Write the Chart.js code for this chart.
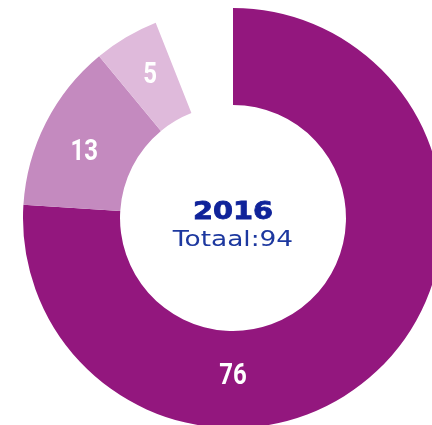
<!DOCTYPE html>
<html>
<head>
<meta charset="utf-8">
<script src="https://cdn.jsdelivr.net/npm/chart.js@4"></script>
<style>
  html, body { margin: 0; padding: 0; background: #fff; overflow: hidden; }
  #wrap { position: absolute; left: 0; top: 0; width: 466px; height: 436px; }
</style>
</head>
<body>
<div id="wrap"><canvas id="donut"></canvas></div>
<script>
// values (out of 100, the rest is an empty gap)
const labels = ['A', 'B', 'C'];
const values = [76, 13, 5];
const gap = 6;
const year = '2016';
const totalLabel = 'Totaal:94';

const colors = ['#93177e', '#c48abf', '#dfbadb'];

// text squeezed/stretched horizontally (no condensed or geometric fonts here)
function drawText(ctx, text, x, y, sx, stroke) {
    ctx.save();
    ctx.translate(x, y);
    ctx.scale(sx, 1);
    ctx.fillText(text, 0, 0);
    if (stroke) {
        ctx.strokeStyle = ctx.fillStyle;
        ctx.lineWidth = stroke;
        ctx.strokeText(text, 0, 0);
    }
    ctx.restore();
}

// draws the white numbers on the slices and the text in the middle
const donutText = {
    id: 'donutText',
    afterDraw(chart) {
        const ctx = chart.ctx;
        const arcs = chart.getDatasetMeta(0).data;
        ctx.save();
        ctx.textAlign = 'center';
        ctx.textBaseline = 'alphabetic';
        ctx.fillStyle = '#ffffff';
        ctx.font = 'bold 30px Roboto, sans-serif';
        values.forEach((v, i) => {
            const a = arcs[i];
            let r = (a.innerRadius + a.outerRadius) / 2;
            let ang = (a.startAngle + a.endAngle) / 2;
            // the big slice has its number at the bottom
            if (i === 0) { ang = Math.PI / 2; r -= 6; }
            else if (i === 1) { ang -= 2 * Math.PI / 180; r += 2.5; }
            else { ang += 1 * Math.PI / 180; r += 6.5; }
            drawText(ctx, String(v), a.x + Math.cos(ang) * r, a.y + Math.sin(ang) * r + 11, 0.8);
        });
        const cx = arcs[0].x, cy = arcs[0].y;
        ctx.fillStyle = '#10239a';
        ctx.font = 'bold 24px "DejaVu Sans", sans-serif';
        drawText(ctx, year, cx, cy + 0.5, 1.2, 0.8);
        ctx.fillStyle = '#1d389f';
        ctx.font = '22px "DejaVu Sans", sans-serif';
        drawText(ctx, totalLabel, cx, cy + 28, 1.2);
        ctx.restore();
    }
};

new Chart(document.getElementById('donut').getContext('2d'), {
    type: 'doughnut',
    data: {
        labels: [...labels, ''],
        datasets: [{
            data: [...values, gap],
            backgroundColor: [...colors, 'rgba(0,0,0,0)'],
            borderWidth: 0
        }]
    },
    options: {
        responsive: true,
        maintainAspectRatio: false,
        animation: false,
        cutout: '53.8%',
        layout: { padding: 8 },
        plugins: {
            legend: { display: false },
            tooltip: { enabled: false }
        }
    },
    plugins: [donutText]
});
</script>
</body>
</html>
